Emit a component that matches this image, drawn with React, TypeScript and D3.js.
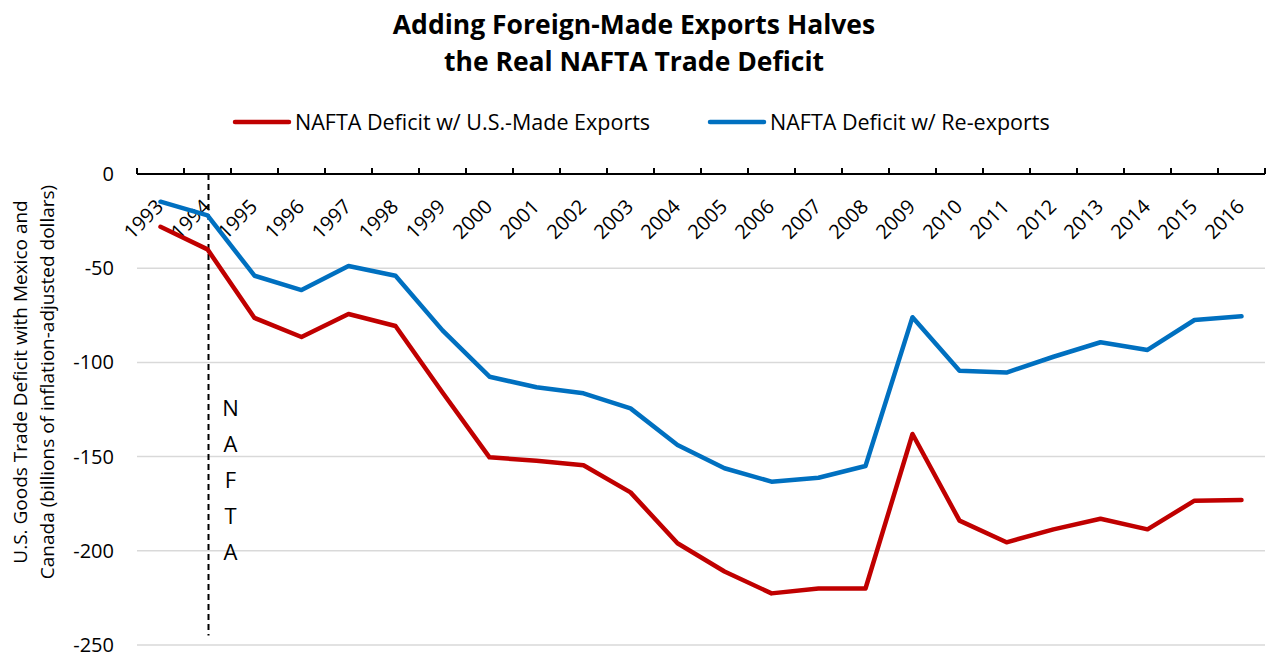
import React, { useEffect, useRef } from 'react';
import * as d3 from 'd3';

const years = ['1993', '1994', '1995', '1996', '1997', '1998', '1999', '2000', '2001', '2002', '2003', '2004',
  '2005', '2006', '2007', '2008', '2009', '2010', '2011', '2012', '2013', '2014', '2015', '2016'];

const usMadeDeficit = [-28, -40, -76.4, -86.5, -74.3, -80.7, -116, -150.4, -152.2, -154.6, -169, -196,
  -211, -222.6, -220, -220, -138, -184, -195.5, -188.6, -183, -188.6, -173.4, -173];

const reExportDeficit = [-14.7, -22, -54, -61.6, -48.8, -54, -83, -107.6, -113.2, -116.4, -124.4, -143.8,
  -156.2, -163.3, -161.2, -155, -76, -104.4, -105.4, -97, -89.3, -93.4, -77.5, -75.5];

const yTicks = [0, -50, -100, -150, -200, -250];
const seriesNames = ['NAFTA Deficit w/ U.S.-Made Exports', 'NAFTA Deficit w/ Re-exports'];
const seriesColors = ['#C00000', '#0070C0'];
const naftaLetters = ['N', 'A', 'F', 'T', 'A'];

const FONT = '"Open Sans", sans-serif';

const App = () => {
  const svgRef = useRef(null);

  const handleSVG = () => {
    const width = 1267, height = 653;
    const margin = { top: 174, right: 2, bottom: 8, left: 137 };

    const svg = d3.select(svgRef.current);
    svg.selectAll('*').remove();
    svg.attr('width', width).attr('height', height);

    const x = d3.scaleBand().domain(years).range([margin.left, 1265]);
    const y = d3.scaleLinear().domain([0, -250]).range([margin.top, 645]);
    const cx = (d) => x(d) + x.bandwidth() / 2;

    // title
    svg.append('text')
      .attr('x', 634).attr('y', 34)
      .attr('text-anchor', 'middle')
      .style('font-family', FONT).style('font-weight', 'bold').style('font-size', '26.5px')
      .text('Adding Foreign-Made Exports Halves');
    svg.append('text')
      .attr('x', 634).attr('y', 71)
      .attr('text-anchor', 'middle')
      .style('font-family', FONT).style('font-weight', 'bold').style('font-size', '26.5px')
      .text('the Real NAFTA Trade Deficit');

    // legend
    const legendX = [235, 710];
    seriesNames.forEach((name, i) => {
      svg.append('line')
        .attr('x1', legendX[i]).attr('x2', legendX[i] + 54)
        .attr('y1', 122).attr('y2', 122)
        .attr('stroke', seriesColors[i]).attr('stroke-width', 4.5).attr('stroke-linecap', 'round');
      svg.append('text')
        .attr('x', legendX[i] + 60).attr('y', 130)
        .style('font-family', FONT).style('font-size', '21.5px')
        .text(name);
    });

    // gridlines
    svg.append('g')
      .selectAll('line')
      .data(yTicks.filter(t => t !== 0))
      .enter()
      .append('line')
      .attr('x1', margin.left).attr('x2', 1265)
      .attr('y1', d => y(d)).attr('y2', d => y(d))
      .attr('stroke', '#D9D9D9').attr('stroke-width', 1.5);

    // y tick labels
    svg.append('g')
      .selectAll('text')
      .data(yTicks)
      .enter()
      .append('text')
      .attr('x', 114).attr('y', d => y(d) + 7)
      .attr('text-anchor', 'end')
      .style('font-family', FONT).style('font-size', '20px')
      .text(d => d);

    // y axis title
    const yTitle = svg.append('text')
      .attr('transform', 'translate(27,382) rotate(-90)')
      .attr('text-anchor', 'middle')
      .style('font-family', FONT).style('font-size', '19px');
    yTitle.append('tspan').attr('x', 0).attr('y', 0).text('U.S. Goods Trade Deficit with Mexico and');
    yTitle.append('tspan').attr('x', 0).attr('y', 27).text('Canada (billions of inflation-adjusted dollars)');

    // x axis at zero with upward ticks
    const axis = svg.append('g');
    axis.append('line')
      .attr('x1', margin.left).attr('x2', 1265)
      .attr('y1', y(0)).attr('y2', y(0))
      .attr('stroke', '#000').attr('stroke-width', 2);
    const tickPos = years.map(d => x(d)).concat([1265]);
    axis.selectAll('line.tick')
      .data(tickPos)
      .enter()
      .append('line')
      .attr('class', 'tick')
      .attr('x1', d => d).attr('x2', d => d)
      .attr('y1', y(0) - 6).attr('y2', y(0))
      .attr('stroke', '#000').attr('stroke-width', 2);
    axis.selectAll('text')
      .data(years)
      .enter()
      .append('text')
      .attr('transform', d => `translate(${cx(d) + 4},${y(0) + 34}) rotate(-45)`)
      .attr('text-anchor', 'end')
      .style('font-family', FONT).style('font-size', '20px')
      .text(d => d);

    // NAFTA marker
    svg.append('line')
      .attr('x1', cx('1994') + 1).attr('x2', cx('1994') + 1)
      .attr('y1', y(0)).attr('y2', y(-245))
      .attr('stroke', '#000').attr('stroke-width', 2).attr('stroke-dasharray', '6,4');
    svg.append('g')
      .selectAll('text')
      .data(naftaLetters)
      .enter()
      .append('text')
      .attr('x', 230.5).attr('y', (d, i) => 416 + i * 36)
      .attr('text-anchor', 'middle')
      .style('font-family', FONT).style('font-size', '22px')
      .text(d => d);

    // lines
    const line = d3.line()
      .x((d, i) => cx(years[i]))
      .y(d => y(d));
    [usMadeDeficit, reExportDeficit].forEach((s, i) => {
      svg.append('path')
        .datum(s)
        .attr('d', line)
        .attr('fill', 'none')
        .attr('stroke', seriesColors[i])
        .attr('stroke-width', 4.5)
        .attr('stroke-linejoin', 'round')
        .attr('stroke-linecap', 'round');
    });
  };

  useEffect(() => {
    document.body.style.margin = '0';
    handleSVG();
  }, []);

  return (
    <div style={{ background: '#fff' }}>
      <svg ref={svgRef} style={{ display: 'block' }} />
    </div>
  );
};

export default App;
